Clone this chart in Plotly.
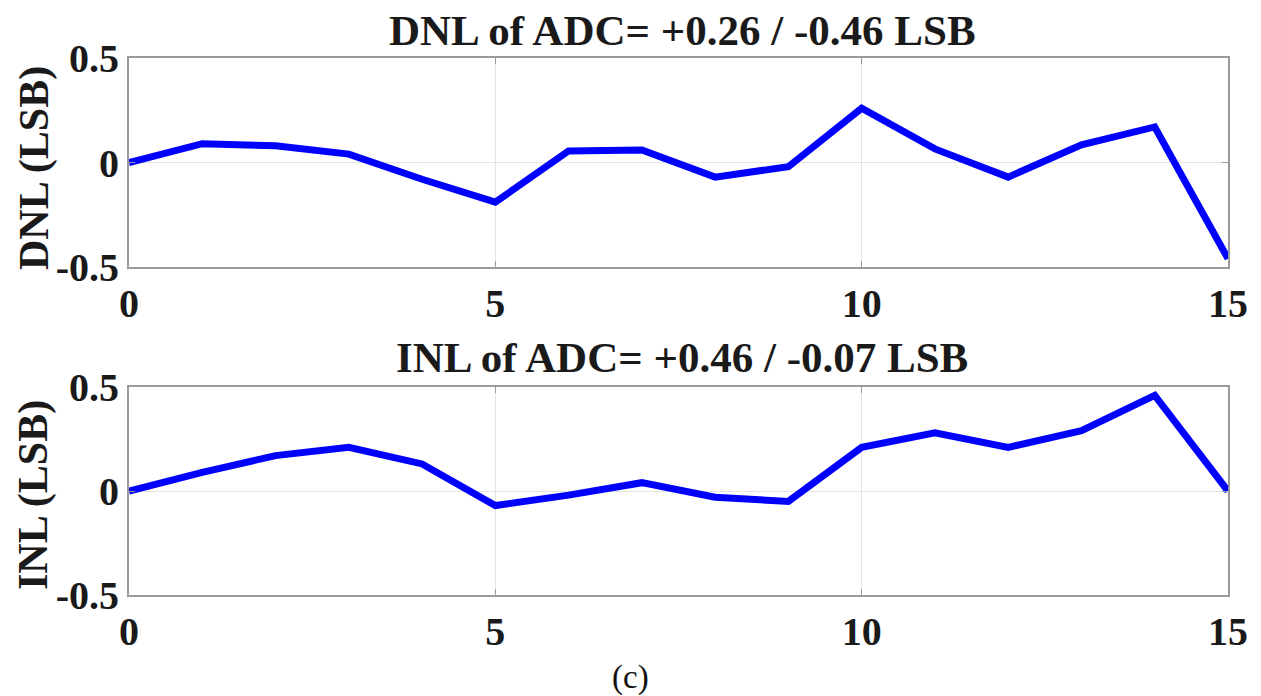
import plotly.graph_objects as go

W, H = 1261, 696

codes = list(range(16))
dnl = [0.0, 0.09, 0.08, 0.04, -0.08, -0.19, 0.055, 0.06, -0.07, -0.02, 0.26, 0.065, -0.07, 0.085, 0.17, -0.46]
inl = [0.0, 0.09, 0.17, 0.21, 0.13, -0.07, -0.02, 0.04, -0.03, -0.05, 0.21, 0.28, 0.21, 0.29, 0.46, 0.0]

x_ticks = [0, 5, 10, 15]
y_ticks = [-0.5, 0, 0.5]
y_ticklabels = ["-0.5", "0", "0.5"]

dnl_title = "DNL of ADC= +0.26 / -0.46 LSB"
inl_title = "INL of ADC= +0.46 / -0.07 LSB"
dnl_ylabel = "DNL (LSB)"
inl_ylabel = "INL (LSB)"
caption = "(c)"

FONT = "Liberation Serif"
BLUE = "#0000FF"

def px_x(p):
    return p / W

def px_y(p):
    return 1 - p / H

left, right = 129, 1228
top1, bot1 = 58, 267
top2, bot2 = 387, 595

fig = go.Figure()
fig.add_trace(go.Scatter(x=codes, y=dnl, mode="lines", line=dict(color=BLUE, width=7),
                         xaxis="x", yaxis="y", showlegend=False))
fig.add_trace(go.Scatter(x=codes, y=inl, mode="lines", line=dict(color=BLUE, width=7),
                         xaxis="x2", yaxis="y2", showlegend=False))

tickfont = dict(family=FONT, size=40, color="#1a1a1a", weight="bold")

def xax(anchor):
    return dict(domain=[px_x(left), px_x(right)], anchor=anchor, range=[0, 15],
                tickvals=x_ticks, ticktext=[str(v) for v in x_ticks],
                showgrid=True, gridcolor="#e4e4e4", gridwidth=1,
                showline=True, linecolor="#9a9a9a", linewidth=2, mirror="ticks",
                ticks="inside", ticklen=6, tickcolor="#9a9a9a",
                tickfont=tickfont, ticklabelstandoff=0, zeroline=False,
                automargin=False)

def yax(anchor, t, b):
    return dict(domain=[px_y(b), px_y(t)], anchor=anchor, range=[-0.5, 0.5],
                tickvals=y_ticks, ticktext=y_ticklabels,
                showgrid=True, gridcolor="#e4e4e4", gridwidth=1,
                showline=True, linecolor="#9a9a9a", linewidth=2, mirror="ticks",
                ticks="inside", ticklen=6, tickcolor="#9a9a9a",
                tickfont=tickfont, ticklabelstandoff=0, zeroline=False,
                automargin=False)

fig.update_layout(
    template="none",
    width=W, height=H,
    margin=dict(l=0, r=0, t=0, b=0, pad=0),
    paper_bgcolor="white", plot_bgcolor="white",
    xaxis=xax("y"), yaxis=yax("x", top1, bot1),
    xaxis2=xax("y2"), yaxis2=yax("x2", top2, bot2),
)

bold = dict(family=FONT, size=43, color="#1a1a1a", weight="bold")
ann = []
ann.append(dict(text=dnl_title, x=px_x(682), y=px_y(30), xref="paper", yref="paper",
                showarrow=False, xanchor="center", yanchor="middle", font=bold))
ann.append(dict(text=inl_title, x=px_x(682), y=px_y(357), xref="paper", yref="paper",
                showarrow=False, xanchor="center", yanchor="middle", font=bold))
ann.append(dict(text=dnl_ylabel, x=px_x(34), y=px_y(168), xref="paper", yref="paper",
                showarrow=False, xanchor="center", yanchor="middle", textangle=-90,
                font=dict(family=FONT, size=42, color="#1a1a1a", weight="bold")))
ann.append(dict(text=inl_ylabel, x=px_x(34), y=px_y(495), xref="paper", yref="paper",
                showarrow=False, xanchor="center", yanchor="middle", textangle=-90,
                font=dict(family=FONT, size=42, color="#1a1a1a", weight="bold")))
ann.append(dict(text=caption, x=px_x(630), y=px_y(677), xref="paper", yref="paper",
                showarrow=False, xanchor="center", yanchor="middle",
                font=dict(family=FONT, size=33, color="#111111")))
fig.update_layout(annotations=ann)

fig.write_html("out.html")
